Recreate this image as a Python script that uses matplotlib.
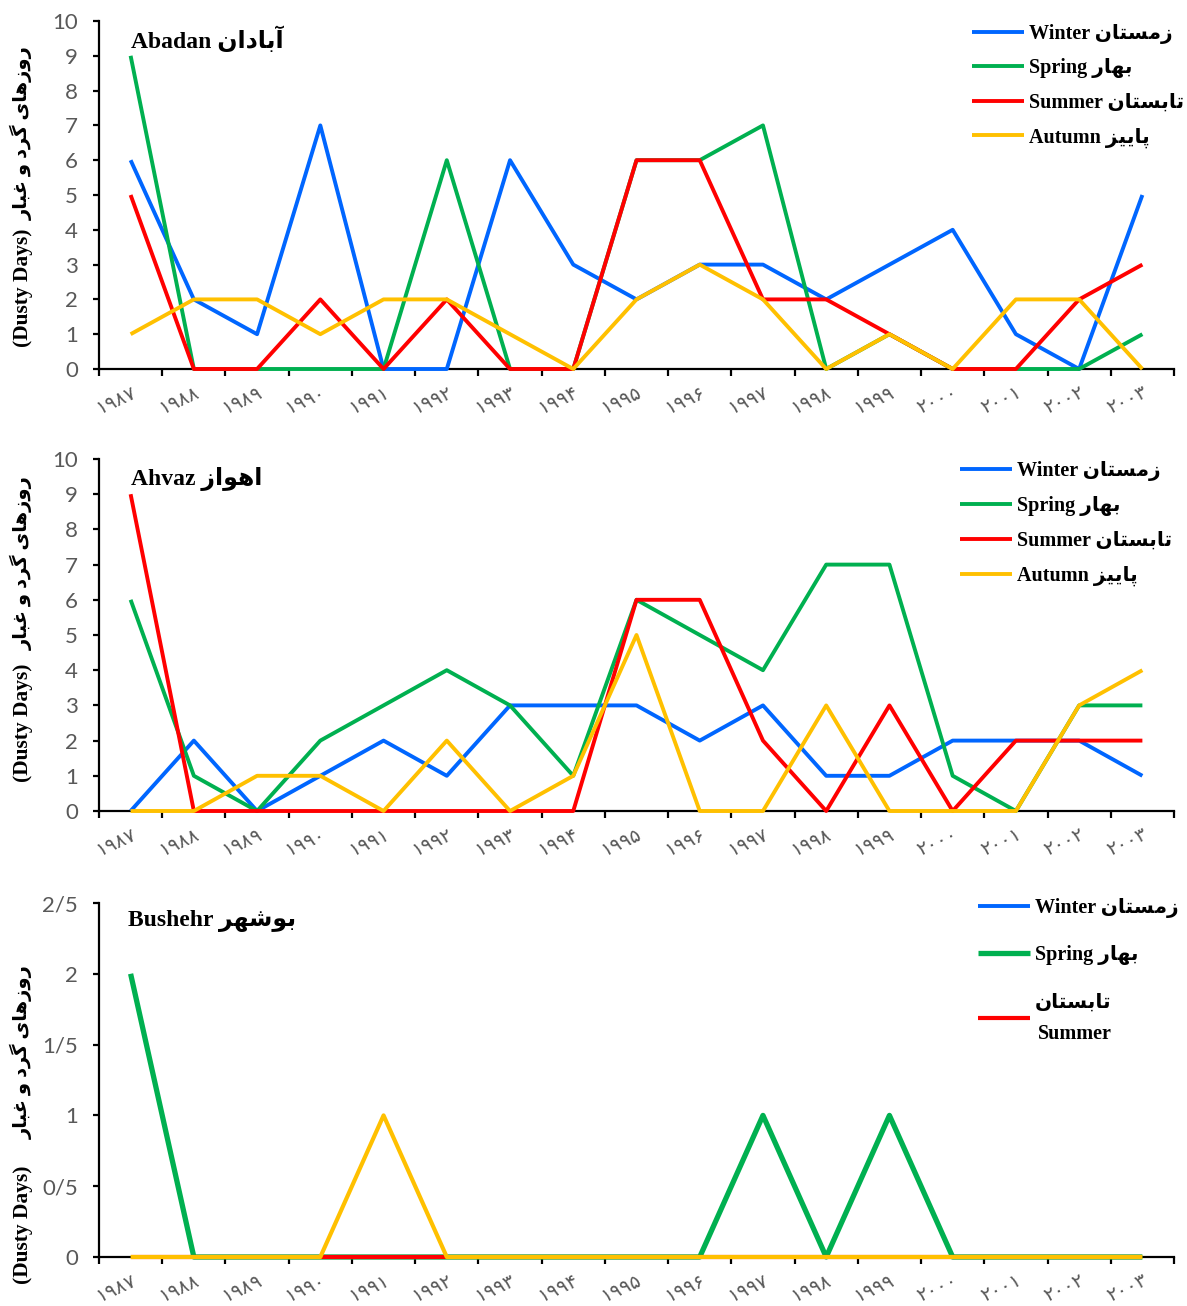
import matplotlib
matplotlib.use("Agg")
import matplotlib.pyplot as plt
import numpy as np

# ---- data ----
years = list(range(1987, 2004))

abadan_winter = [6, 2, 1, 7, 0, 0, 6, 3, 2, 3, 3, 2, 3, 4, 1, 0, 5]
abadan_spring = [9, 0, 0, 0, 0, 6, 0, 0, 6, 6, 7, 0, 1, 0, 0, 0, 1]
abadan_summer = [5, 0, 0, 2, 0, 2, 0, 0, 6, 6, 2, 2, 1, 0, 0, 2, 3]
abadan_autumn = [1, 2, 2, 1, 2, 2, 1, 0, 2, 3, 2, 0, 1, 0, 2, 2, 0]

ahvaz_winter = [0, 2, 0, 1, 2, 1, 3, 3, 3, 2, 3, 1, 1, 2, 2, 2, 1]
ahvaz_spring = [6, 1, 0, 2, 3, 4, 3, 1, 6, 5, 4, 7, 7, 1, 0, 3, 3]
ahvaz_summer = [9, 0, 0, 0, 0, 0, 0, 0, 6, 6, 2, 0, 3, 0, 2, 2, 2]
ahvaz_autumn = [0, 0, 1, 1, 0, 2, 0, 1, 5, 0, 0, 3, 0, 0, 0, 3, 4]

bushehr_winter = [0] * 17
bushehr_spring = [2, 0, 0, 0, 0, 0, 0, 0, 0, 0, 1, 0, 1, 0, 0, 0, 0]
bushehr_summer = [0] * 17
bushehr_autumn = [0, 0, 0, 0, 1, 0, 0, 0, 0, 0, 0, 0, 0, 0, 0, 0, 0]

bushehr_yticks = [0, 0.5, 1, 1.5, 2, 2.5]
bushehr_yticklabels = ["0", "0/5", "1", "1/5", "2", "2/5"]

# ---- persian text shaping (matplotlib has no arabic shaping) ----
FORMS = {
    "ا": ("\uFE8D", "\uFE8E", None, None),
    "آ": ("\uFE81", "\uFE82", None, None),
    "ب": ("\uFE8F", "\uFE90", "\uFE91", "\uFE92"),
    "پ": ("\uFB56", "\uFB57", "\uFB58", "\uFB59"),
    "ت": ("\uFE95", "\uFE96", "\uFE97", "\uFE98"),
    "د": ("\uFEA9", "\uFEAA", None, None),
    "ر": ("\uFEAD", "\uFEAE", None, None),
    "ز": ("\uFEAF", "\uFEB0", None, None),
    "س": ("\uFEB1", "\uFEB2", "\uFEB3", "\uFEB4"),
    "ش": ("\uFEB5", "\uFEB6", "\uFEB7", "\uFEB8"),
    "غ": ("\uFECD", "\uFECE", "\uFECF", "\uFED0"),
    "گ": ("\uFB92", "\uFB93", "\uFB94", "\uFB95"),
    "م": ("\uFEE1", "\uFEE2", "\uFEE3", "\uFEE4"),
    "ن": ("\uFEE5", "\uFEE6", "\uFEE7", "\uFEE8"),
    "ه": ("\uFEE9", "\uFEEA", "\uFEEB", "\uFEEC"),
    "و": ("\uFEED", "\uFEEE", None, None),
    "ی": ("\uFBFC", "\uFBFD", "\uFBFE", "\uFBFF"),
}

def fa(s):
    out = []
    for i, c in enumerate(s):
        if c not in FORMS:
            out.append(c)
            continue
        iso, fin, ini, med = FORMS[c]
        prev = s[i - 1] if i > 0 else None
        nxt = s[i + 1] if i + 1 < len(s) else None
        jp = prev in FORMS and FORMS[prev][2] is not None
        jn = ini is not None and nxt in FORMS
        if jp and jn:
            out.append(med)
        elif jp:
            out.append(fin)
        elif jn:
            out.append(ini)
        else:
            out.append(iso)
    return "".join(reversed(out))

def fa_digits(s):
    return str(s).translate(str.maketrans("0123456789", "۰۱۲۳۴۵۶۷۸۹"))

SERIF = ["Liberation Serif", "DejaVu Sans"]
colors = {"w": "#0066FF", "s": "#00B050", "su": "#FF0000", "a": "#FFC000"}

labels = {
    "w": "Winter " + fa("زمستان"),
    "s": "Spring " + fa("بهار"),
    "su": "Summer " + fa("تابستان"),
    "a": "Autumn " + fa("پاییز"),
}
ylab_en = "(Dusty Days)"
ylab_fa = fa("روزهای گرد و غبار")

fig = plt.figure(figsize=(11.87, 13.06), dpi=100)
W, H = 1187, 1306

def make_ax(top_px, bot_px):
    return fig.add_axes([99 / W, 1 - bot_px / H, 1075 / W, (bot_px - top_px) / H])

def style_ax(ax, ymax, en_y, fa_y):
    x = np.arange(len(years))
    ax.set_xlim(-0.5, len(years) - 0.5)
    ax.set_ylim(0, ymax)
    ax.spines["top"].set_visible(False)
    ax.spines["right"].set_visible(False)
    ax.spines["left"].set_linewidth(1.6)
    ax.spines["bottom"].set_linewidth(1.6)
    ax.set_xticks(x)
    ax.set_xticklabels([fa_digits(y) for y in years], rotation=25, ha="right",
                       va="top", rotation_mode="anchor", color="#595959",
                       fontsize=14, family="DejaVu Sans")
    ax.tick_params(axis="x", which="major", length=0, pad=10)
    ax.set_xticks(np.arange(-0.5, len(years)), minor=True)
    ax.tick_params(axis="x", which="minor", length=5, width=1.6, direction="out")
    ax.tick_params(axis="y", length=4.3, width=1.6, direction="out", pad=11,
                   labelsize=16, labelcolor="#595959")
    ax.set_ylabel(ylab_en, family=SERIF, fontweight="bold", fontsize=15.5)
    ax.yaxis.set_label_coords(-0.061, en_y)
    ax.text(-0.0715, fa_y, ylab_fa, transform=ax.transAxes, rotation=90,
            ha="center", va="center", family=SERIF, fontweight="bold", fontsize=14)

def draw(ax, w, s, su, a, lws=(2.8, 2.8, 2.8, 2.8)):
    x = np.arange(len(years))
    lines = []
    for key, vals, lw in zip(["w", "s", "su", "a"], [w, s, su, a], lws):
        l, = ax.plot(x, vals, color=colors[key], lw=lw, label=labels[key],
                     zorder=3, clip_on=False, solid_capstyle="butt")
        lines.append(l)
    return lines

LEG = dict(loc="upper left", frameon=False,
           prop={"family": SERIF, "weight": "bold", "size": 14.5},
           handlelength=2.6, handletextpad=0.25, borderpad=0, borderaxespad=0)

# --- Abadan ---
ax1 = make_ax(21, 369)
l1 = draw(ax1, abadan_winter, abadan_spring, abadan_summer, abadan_autumn)
style_ax(ax1, 10, 0.233, 0.678)
ax1.set_yticks(range(0, 11))
for t in ax1.get_yticklabels():
    t.set_family("Lato")
ax1.text(0.03, 0.945, "Abadan " + fa("آبادان"), transform=ax1.transAxes,
         family=SERIF, fontweight="bold", fontsize=17, va="center", ha="left")
ax1.legend(handles=l1, bbox_to_anchor=(0.812, 0.992), labelspacing=0.72, **LEG)

# --- Ahvaz ---
ax2 = make_ax(459, 811)
l2 = draw(ax2, ahvaz_winter, ahvaz_spring, ahvaz_summer, ahvaz_autumn)
style_ax(ax2, 10, 0.25, 0.705)
ax2.set_yticks(range(0, 11))
for t in ax2.get_yticklabels():
    t.set_family("Lato")
ax2.text(0.03, 0.943, "Ahvaz " + fa("اهواز"), transform=ax2.transAxes,
         family=SERIF, fontweight="bold", fontsize=17, va="center", ha="left")
ax2.legend(handles=l2, bbox_to_anchor=(0.8007, 0.994), labelspacing=0.74, **LEG)

# --- Bushehr ---
ax3 = make_ax(903, 1257)
l3 = draw(ax3, bushehr_winter, bushehr_spring, bushehr_summer, bushehr_autumn,
          lws=(2.8, 3.8, 3.0, 3.0))
style_ax(ax3, 2.5, 0.09, 0.578)
ax3.set_yticks(bushehr_yticks)
ax3.set_yticklabels(bushehr_yticklabels, family="Lato")
ax3.text(0.027, 0.949, "Bushehr " + fa("بوشهر"), transform=ax3.transAxes,
         family=SERIF, fontweight="bold", fontsize=17, va="center", ha="left")
l3[2].set_label(fa("تابستان") + "\nSummer")
leg3 = ax3.legend(handles=l3[:3], bbox_to_anchor=(0.8175, 1.014),
                  labelspacing=1.35, **LEG)
leg3.get_texts()[2].set_multialignment("right")
leg3.get_texts()[2].set_linespacing(1.75)

fig.savefig("out.png", dpi=100)
